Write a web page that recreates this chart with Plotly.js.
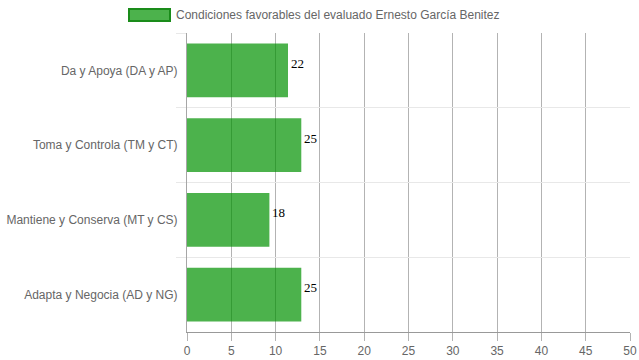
<!DOCTYPE html>
<html><head><meta charset="utf-8">
<script src="https://cdn.plot.ly/plotly-3.0.1.min.js"></script>
<style>html,body{margin:0;padding:0;background:#fff}#chart{width:639px;height:360px}</style>
</head><body><div id="chart"></div>
<script>
const categories = ["Da y Apoya (DA y AP)", "Toma y Controla (TM y CT)", "Mantiene y Conserva (MT y CS)", "Adapta y Negocia (AD y NG)"];
const barValues = [11.4, 12.9, 9.3, 12.9];
const barLabels = ["22", "25", "18", "25"];
const seriesName = "Condiciones favorables del evaluado Ernesto García Benitez";
const xTicks = [0, 5, 10, 15, 20, 25, 30, 35, 40, 45, 50];

const trace = {
  type: 'bar', orientation: 'h',
  y: categories, x: barValues,
  marker: {color: 'rgba(0,146,0,0.7)', line: {width: 0}},
  width: 0.72, name: seriesName, showlegend: false, hoverinfo: 'none'
};

const valueLabels = barLabels.map((t, i) => ({
  x: barValues[i], y: categories[i], xref: 'x', yref: 'y',
  text: t, showarrow: false, xanchor: 'left', yanchor: 'middle',
  xshift: 1, yshift: 7,
  font: {family: 'Liberation Serif, Times New Roman, serif', size: 13, color: '#000'}
}));

const layout = {
  width: 639, height: 360,
  margin: {l: 187, r: 9, t: 33, b: 28},
  paper_bgcolor: '#fff', plot_bgcolor: '#fff',
  font: {family: 'Liberation Sans, Arial, sans-serif', size: 12, color: '#666'},
  xaxis: {
    range: [0, 50], tickvals: xTicks, ticktext: xTicks.map(String),
    showgrid: true, gridcolor: '#b3b3b3', gridwidth: 1,
    zeroline: false, showline: true, linecolor: '#999', linewidth: 1,
    ticks: 'outside', ticklen: 8, tickcolor: '#b3b3b3',
    tickfont: {size: 12, color: '#666'}
  },
  yaxis: {
    type: 'category', autorange: 'reversed', tickson: 'boundaries',
    showgrid: true, gridcolor: '#e8e8e8', gridwidth: 1,
    showline: true, linecolor: '#a6a6a6', linewidth: 1,
    ticks: 'outside', ticklen: 10, tickcolor: '#e8e8e8',
    tickfont: {size: 12, color: '#666'}, ticklabelstandoff: 6
  },
  shapes: [{
    type: 'rect', xref: 'paper', yref: 'paper',
    x0: (129 - 187) / 443, x1: (170 - 187) / 443,
    y0: (332 - 21) / 299, y1: (332 - 9) / 299,
    fillcolor: 'rgba(0,146,0,0.7)', line: {color: '#1a8c1a', width: 2}
  }],
  annotations: [{
    xref: 'paper', yref: 'paper', x: (174 - 187) / 443, y: (332 - 15) / 299,
    xanchor: 'left', yanchor: 'middle', showarrow: false,
    text: seriesName, font: {size: 12, color: '#666'}
  }].concat(valueLabels)
};

Plotly.newPlot('chart', [trace], layout, {staticPlot: true, displayModeBar: false});
</script></body></html>
